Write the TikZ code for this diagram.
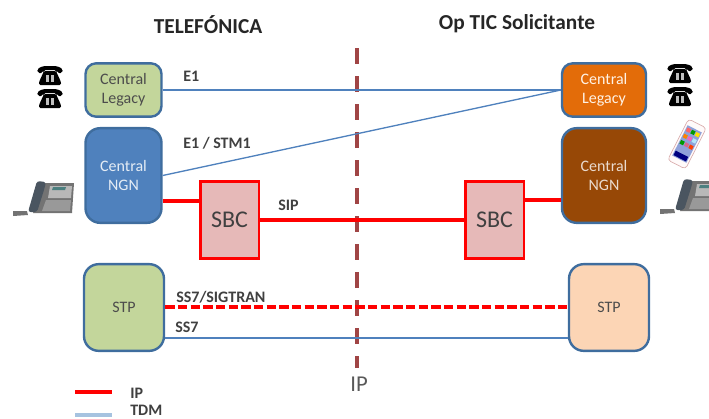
\documentclass[tikz,border=0pt]{standalone}
\usepackage{fontspec}
\setmainfont{Carlito}
\definecolor{edgeblue}{HTML}{3F6D9E}
\definecolor{linkblue}{HTML}{4F81BD}
\definecolor{lgreen}{HTML}{C3D69B}
\definecolor{nblue}{HTML}{4F81BD}
\definecolor{norange}{HTML}{E36C09}
\definecolor{nbrown}{HTML}{974806}
\definecolor{npeach}{HTML}{FCD5B5}
\definecolor{npink}{HTML}{E6B9B8}
\definecolor{ipline}{HTML}{A04545}
\definecolor{txt}{HTML}{404040}
\definecolor{legblue}{HTML}{A6C3E0}
\definecolor{slate}{HTML}{4A5560}
\tikzset{
  x=0.75pt,y=-0.75pt,
  central/.style={draw=edgeblue,line width=1.8pt,rounded corners=8pt,inner sep=0pt,align=center,
    font=\fontsize{12pt}{14.5pt}\selectfont},
  sbcbox/.style={draw=red,line width=2pt,fill=npink,minimum width=44pt,minimum height=58pt,inner sep=0pt,
    text=txt,font=\fontsize{18pt}{20pt}\selectfont},
  tdmlink/.style={draw=linkblue,line width=1pt},
  iplink/.style={draw=red,line width=2.3pt},
  lbl/.style={inner sep=0pt,text=txt,font=\bfseries\fontsize{12pt}{13pt}\selectfont},
  head/.style={inner sep=0pt,text=black!85,font=\bfseries\fontsize{16pt}{18pt}\selectfont},
  oldphone/.pic={
    \fill[black,rounded corners=1.5pt] (-12.5,-3) -- (-13,-7) -- (-7,-10) -- (7,-10) -- (13,-7) -- (12.5,-3) -- (7,-3) -- (6.5,-6) -- (-6.5,-6) -- (-7,-3) -- cycle;
    \fill[black,rounded corners=1pt] (-6,-5) -- (6,-5) -- (11,6) -- (11,9) -- (-11,9) -- (-11,6) -- cycle;
    \fill[white!75!black] (-4,-1) rectangle (-1,6);
    \fill[white!75!black] (1,-1) rectangle (4,6);
  },
  deskphone/.pic={
    \fill[black!55] (13,211) -- (27,211) -- (28,215) -- (13,216) -- cycle;
    \fill[black!55] (45,183) -- (74,183) -- (72,213) -- (33,213) -- cycle;
    \fill[black!28] (50,186) -- (72,186) -- (71,198) -- (48,198) -- cycle;
    \fill[black!40] (46,200) -- (71,200) -- (70,211) -- (42,211) -- cycle;
    \fill[teal!40!gray] (53,187) -- (66,187) -- (65,190) -- (52,190) -- cycle;
    \fill[slate,rounded corners=2pt] (37,181) -- (46,182) -- (44,190) -- (37,212) -- (28,212) -- cycle;
  },
  smartphone/.pic={
    \begin{scope}[rotate=-27]
      \fill[white!92!pink,draw=pink!70!gray,line width=0.5pt,rounded corners=2.5pt] (-10,-23) rectangle (10,23);
      \fill[cyan!35!blue!45] (-8,-17) rectangle (8,17);
      \fill[red!60] (-7,-15) rectangle (-3,-11);
      \fill[green!60!black] (-2,-15) rectangle (2,-11);
      \fill[yellow!85!orange] (3,-15) rectangle (7,-11);
      \fill[orange] (-7,-8) rectangle (-3,-4);
      \fill[magenta!60] (-2,-8) rectangle (2,-4);
      \fill[white!70!cyan] (3,-8) rectangle (7,-4);
      \fill[green!60!black] (-7,-1) rectangle (-3,3);
      \fill[purple!60] (-2,-1) rectangle (2,3);
      \fill[red!50!orange] (3,-1) rectangle (7,3);
      \fill[blue!50!black] (-7,11) rectangle (7,16);
    \end{scope}
  },
}
\begin{document}
\begin{tikzpicture}
\useasboundingbox (0,0) rectangle (709,418);
\clip (0,0) rectangle (709,418);
% boundary
\coordinate (ipT) at (357,48);
\coordinate (ipB) at (357,368);
\draw[draw=ipline,line width=2.8pt,dash pattern=on 12pt off 9pt] (ipT) -- (ipB);
% nodes
\node[central,fill=lgreen,text=black!70,minimum width=57pt,minimum height=40pt] (legL) at (123.5,90) {Central\\Legacy};
\node[central,fill=norange,text=white!90!orange,minimum width=63pt,minimum height=40pt] (legR) at (604,90) {Central\\Legacy};
\node[central,fill=nblue,text=white!85!nblue,rounded corners=11pt,minimum width=57pt,minimum height=71pt] (ngnL) at (123.5,175.5) {Central\\NGN};
\node[central,fill=nbrown,text=white!80!nbrown,rounded corners=11pt,minimum width=63pt,minimum height=71pt] (ngnR) at (604,175.5) {Central\\NGN};
\node[sbcbox] (sbcL) at (229.5,220) {SBC};
\node[sbcbox] (sbcR) at (494.5,220) {SBC};
\node[central,fill=lgreen,text=black!70,rounded corners=11pt,minimum width=60pt,minimum height=65pt] (stpL) at (124,307.5) {STP};
\node[central,fill=npeach,text=black!70,rounded corners=11pt,minimum width=60pt,minimum height=65pt] (stpR) at (609,307.5) {STP};
% connectors
\coordinate (portL) at (180,201);
\coordinate (portR) at (545,200);
\coordinate (sigY) at (300,307);
\coordinate (ssY) at (300,338);
\draw[tdmlink] (legL.east) -- (legR.west);
\draw[tdmlink] (ngnL.east) -- (legR.west);
\draw[iplink] (ngnL.east |- portL) -- (sbcL.west |- portL);
\draw[iplink] (sbcR.east |- portR) -- (ngnR.west |- portR);
\draw[iplink] (sbcL.east) -- (sbcR.west);
\draw[iplink,dash pattern=on 7pt off 2.5pt] (stpL.east |- sigY) -- (stpR.west |- sigY);
\draw[tdmlink] (stpL.east |- ssY) -- (stpR.west |- ssY);
% labels
\node[head] (hL) at (208,25) {TELEFÓNICA};
\node[head] (hR) at (517,24) {Op TIC Solicitante};
\node[lbl,anchor=west] (lE1) at (183,76) {E1};
\node[lbl,anchor=west] (lStm) at (183,143) {E1 / STM1};
\node[lbl,anchor=west] (lSip) at (278,205) {SIP};
\node[lbl,anchor=west] (lSig) at (176,297) {SS7/SIGTRAN};
\node[lbl,anchor=west] (lSs) at (175,327) {SS7};
\node[inner sep=0pt,text=black!65,font=\fontsize{17pt}{19pt}\selectfont] (lIp) at (359,384) {IP};
% legend
\coordinate (k1a) at (75,392);
\coordinate (k1b) at (112,392);
\coordinate (k2a) at (75,415);
\coordinate (k2b) at (112,415);
\draw[iplink] (k1a) -- (k1b);
\draw[draw=legblue,line width=2.6pt] (k2a) -- (k2b);
\node[lbl,anchor=west] (kIp) at (130,393) {IP};
\node[lbl,anchor=west] (kTdm) at (130,410) {TDM};
% terminals
\pic at (50,76) {oldphone};
\pic at (50,99) {oldphone};
\pic at (680,74) {oldphone};
\pic at (680,97) {oldphone};
\pic at (0,0) {deskphone};
\pic at (647,-2) {deskphone};
\pic at (687,144) {smartphone};
\end{tikzpicture}
\end{document}
